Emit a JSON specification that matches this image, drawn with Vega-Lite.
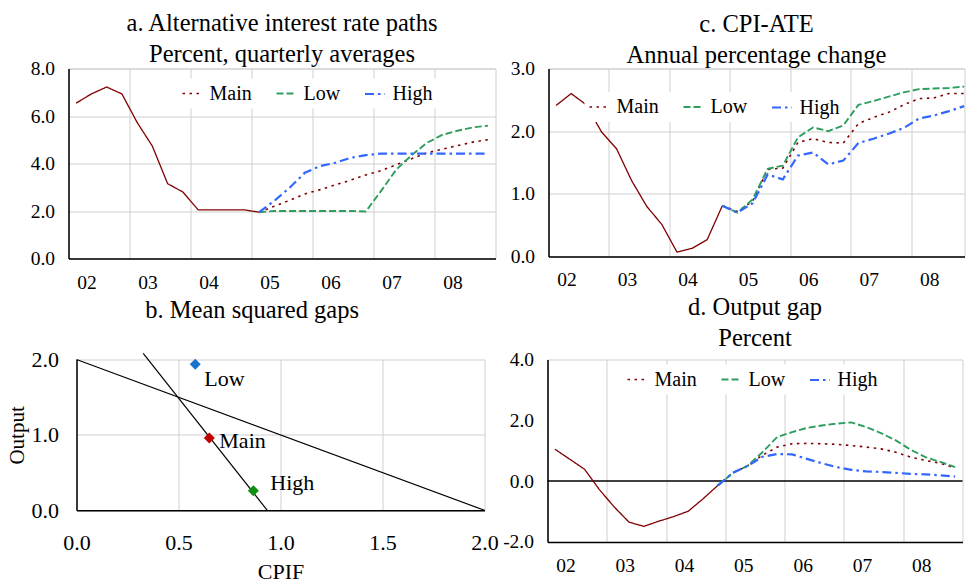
{
  "$schema": "https://vega.github.io/schema/vega-lite/v6.json",
  "padding": {"left": 5.5, "top": 10.5, "right": 0, "bottom": 0},
  "background": "white",
  "config": {
    "font": "Liberation Serif",
    "style": {"guide-label": {"font": "Liberation Serif", "fill": "#000"}, "guide-title": {"font": "Liberation Serif", "fill": "#000", "fontWeight": "normal"}, "group-title": {"font": "Liberation Serif"}},
    "view": {"stroke": "#cfcfcf", "strokeWidth": 1},
    "axis": {"labelFont": "Liberation Serif", "labelFontSize": 19.5, "labelColor": "#000", "titleFont": "Liberation Serif", "titleFontWeight": "normal", "titleColor": "#000", "gridColor": "#cfcfcf", "gridWidth": 1, "domainColor": "#000", "domainWidth": 1.5, "ticks": false, "labelPadding": 13, "labelFlush": false, "labelOverlap": false},
    "axisY": {"labelPadding": 14},
    "title": {"font": "Liberation Serif", "fontSize": 24.5, "fontWeight": "normal", "color": "#000", "lineHeight": 31, "anchor": "middle"},
    "legend": {"labelFont": "Liberation Serif", "labelFontSize": 20, "labelColor": "#000", "symbolType": "stroke", "symbolSize": 400, "symbolStrokeWidth": 2.2, "fillColor": "#fff", "padding": 4, "columnPadding": 20, "labelOffset": 6, "title": null, "direction": "horizontal", "orient": "none", "gridAlign": "none"}
  },
  "datasets": {
    "a": [
      {"t": 2002.125, "s": "Hist", "v": 6.54}, {"t": 2002.375, "s": "Hist", "v": 6.93}, {"t": 2002.625, "s": "Hist", "v": 7.22}, {"t": 2002.875, "s": "Hist", "v": 6.93},
      {"t": 2003.125, "s": "Hist", "v": 5.73}, {"t": 2003.375, "s": "Hist", "v": 4.73}, {"t": 2003.625, "s": "Hist", "v": 3.15}, {"t": 2003.875, "s": "Hist", "v": 2.8},
      {"t": 2004.125, "s": "Hist", "v": 2.05}, {"t": 2004.375, "s": "Hist", "v": 2.05}, {"t": 2004.625, "s": "Hist", "v": 2.05}, {"t": 2004.875, "s": "Hist", "v": 2.05},
      {"t": 2005.125, "s": "Hist", "v": 1.95},
      {"t": 2005.125, "s": "Main", "v": 1.95}, {"t": 2005.375, "s": "Main", "v": 2.2}, {"t": 2005.625, "s": "Main", "v": 2.45}, {"t": 2005.875, "s": "Main", "v": 2.72},
      {"t": 2006.125, "s": "Main", "v": 2.9}, {"t": 2006.375, "s": "Main", "v": 3.1}, {"t": 2006.625, "s": "Main", "v": 3.3}, {"t": 2006.875, "s": "Main", "v": 3.52},
      {"t": 2007.125, "s": "Main", "v": 3.7}, {"t": 2007.375, "s": "Main", "v": 3.95}, {"t": 2007.625, "s": "Main", "v": 4.2}, {"t": 2007.875, "s": "Main", "v": 4.45},
      {"t": 2008.125, "s": "Main", "v": 4.6}, {"t": 2008.375, "s": "Main", "v": 4.75}, {"t": 2008.625, "s": "Main", "v": 4.9}, {"t": 2008.875, "s": "Main", "v": 5.0},
      {"t": 2005.125, "s": "Low", "v": 1.95}, {"t": 2005.375, "s": "Low", "v": 2.0}, {"t": 2005.625, "s": "Low", "v": 2.0}, {"t": 2005.875, "s": "Low", "v": 2.0},
      {"t": 2006.125, "s": "Low", "v": 2.0}, {"t": 2006.375, "s": "Low", "v": 2.0}, {"t": 2006.625, "s": "Low", "v": 2.0}, {"t": 2006.875, "s": "Low", "v": 1.98},
      {"t": 2007.125, "s": "Low", "v": 2.85}, {"t": 2007.375, "s": "Low", "v": 3.75}, {"t": 2007.625, "s": "Low", "v": 4.35}, {"t": 2007.875, "s": "Low", "v": 4.87},
      {"t": 2008.125, "s": "Low", "v": 5.2}, {"t": 2008.375, "s": "Low", "v": 5.38}, {"t": 2008.625, "s": "Low", "v": 5.52}, {"t": 2008.875, "s": "Low", "v": 5.59},
      {"t": 2005.125, "s": "High", "v": 1.95}, {"t": 2005.375, "s": "High", "v": 2.43}, {"t": 2005.625, "s": "High", "v": 2.98}, {"t": 2005.875, "s": "High", "v": 3.61},
      {"t": 2006.125, "s": "High", "v": 3.89}, {"t": 2006.375, "s": "High", "v": 4.03}, {"t": 2006.625, "s": "High", "v": 4.24}, {"t": 2006.875, "s": "High", "v": 4.35},
      {"t": 2007.125, "s": "High", "v": 4.42}, {"t": 2007.375, "s": "High", "v": 4.42}, {"t": 2007.625, "s": "High", "v": 4.42}, {"t": 2007.875, "s": "High", "v": 4.42},
      {"t": 2008.125, "s": "High", "v": 4.42}, {"t": 2008.375, "s": "High", "v": 4.42}, {"t": 2008.625, "s": "High", "v": 4.42}, {"t": 2008.875, "s": "High", "v": 4.42}
    ],
    "c": [
      {"t": 2002.125, "s": "Hist", "v": 2.41}, {"t": 2002.375, "s": "Hist", "v": 2.6}, {"t": 2002.625, "s": "Hist", "v": 2.42}, {"t": 2002.875, "s": "Hist", "v": 1.99},
      {"t": 2003.125, "s": "Hist", "v": 1.72}, {"t": 2003.375, "s": "Hist", "v": 1.21}, {"t": 2003.625, "s": "Hist", "v": 0.8}, {"t": 2003.875, "s": "Hist", "v": 0.51},
      {"t": 2004.125, "s": "Hist", "v": 0.07}, {"t": 2004.375, "s": "Hist", "v": 0.13}, {"t": 2004.625, "s": "Hist", "v": 0.27}, {"t": 2004.875, "s": "Hist", "v": 0.81},
      {"t": 2004.875, "s": "Main", "v": 0.81}, {"t": 2005.125, "s": "Main", "v": 0.72}, {"t": 2005.375, "s": "Main", "v": 0.88}, {"t": 2005.625, "s": "Main", "v": 1.39}, {"t": 2005.875, "s": "Main", "v": 1.41},
      {"t": 2006.125, "s": "Main", "v": 1.82}, {"t": 2006.375, "s": "Main", "v": 1.88}, {"t": 2006.625, "s": "Main", "v": 1.82}, {"t": 2006.875, "s": "Main", "v": 1.81},
      {"t": 2007.125, "s": "Main", "v": 2.12}, {"t": 2007.375, "s": "Main", "v": 2.22}, {"t": 2007.625, "s": "Main", "v": 2.3}, {"t": 2007.875, "s": "Main", "v": 2.42},
      {"t": 2008.125, "s": "Main", "v": 2.52}, {"t": 2008.375, "s": "Main", "v": 2.53}, {"t": 2008.625, "s": "Main", "v": 2.6}, {"t": 2008.875, "s": "Main", "v": 2.6},
      {"t": 2004.875, "s": "Low", "v": 0.81}, {"t": 2005.125, "s": "Low", "v": 0.7}, {"t": 2005.375, "s": "Low", "v": 0.91}, {"t": 2005.625, "s": "Low", "v": 1.4}, {"t": 2005.875, "s": "Low", "v": 1.45},
      {"t": 2006.125, "s": "Low", "v": 1.9}, {"t": 2006.375, "s": "Low", "v": 2.06}, {"t": 2006.625, "s": "Low", "v": 2.0}, {"t": 2006.875, "s": "Low", "v": 2.09},
      {"t": 2007.125, "s": "Low", "v": 2.42}, {"t": 2007.375, "s": "Low", "v": 2.48}, {"t": 2007.625, "s": "Low", "v": 2.55}, {"t": 2007.875, "s": "Low", "v": 2.62},
      {"t": 2008.125, "s": "Low", "v": 2.67}, {"t": 2008.375, "s": "Low", "v": 2.68}, {"t": 2008.625, "s": "Low", "v": 2.69}, {"t": 2008.875, "s": "Low", "v": 2.71},
      {"t": 2004.875, "s": "High", "v": 0.81}, {"t": 2005.125, "s": "High", "v": 0.7}, {"t": 2005.375, "s": "High", "v": 0.85}, {"t": 2005.625, "s": "High", "v": 1.31}, {"t": 2005.875, "s": "High", "v": 1.23},
      {"t": 2006.125, "s": "High", "v": 1.61}, {"t": 2006.375, "s": "High", "v": 1.66}, {"t": 2006.625, "s": "High", "v": 1.47}, {"t": 2006.875, "s": "High", "v": 1.53},
      {"t": 2007.125, "s": "High", "v": 1.81}, {"t": 2007.375, "s": "High", "v": 1.88}, {"t": 2007.625, "s": "High", "v": 1.96}, {"t": 2007.875, "s": "High", "v": 2.05},
      {"t": 2008.125, "s": "High", "v": 2.2}, {"t": 2008.375, "s": "High", "v": 2.25}, {"t": 2008.625, "s": "High", "v": 2.32}, {"t": 2008.875, "s": "High", "v": 2.4}
    ],
    "d": [
      {"t": 2002.125, "s": "Hist", "v": 1.05}, {"t": 2002.375, "s": "Hist", "v": 0.72}, {"t": 2002.625, "s": "Hist", "v": 0.39}, {"t": 2002.875, "s": "Hist", "v": -0.28},
      {"t": 2003.125, "s": "Hist", "v": -0.85}, {"t": 2003.375, "s": "Hist", "v": -1.35}, {"t": 2003.625, "s": "Hist", "v": -1.49}, {"t": 2003.875, "s": "Hist", "v": -1.32},
      {"t": 2004.125, "s": "Hist", "v": -1.17}, {"t": 2004.375, "s": "Hist", "v": -0.99}, {"t": 2004.625, "s": "Hist", "v": -0.58}, {"t": 2004.875, "s": "Hist", "v": -0.14},
      {"t": 2004.875, "s": "Main", "v": -0.14}, {"t": 2005.125, "s": "Main", "v": 0.27}, {"t": 2005.375, "s": "Main", "v": 0.5}, {"t": 2005.625, "s": "Main", "v": 0.85}, {"t": 2005.875, "s": "Main", "v": 1.12},
      {"t": 2006.125, "s": "Main", "v": 1.23}, {"t": 2006.375, "s": "Main", "v": 1.24}, {"t": 2006.625, "s": "Main", "v": 1.23}, {"t": 2006.875, "s": "Main", "v": 1.21},
      {"t": 2007.125, "s": "Main", "v": 1.17}, {"t": 2007.375, "s": "Main", "v": 1.12}, {"t": 2007.625, "s": "Main", "v": 1.06}, {"t": 2007.875, "s": "Main", "v": 0.95},
      {"t": 2008.125, "s": "Main", "v": 0.79}, {"t": 2008.375, "s": "Main", "v": 0.68}, {"t": 2008.625, "s": "Main", "v": 0.59}, {"t": 2008.875, "s": "Main", "v": 0.43},
      {"t": 2004.875, "s": "Low", "v": -0.14}, {"t": 2005.125, "s": "Low", "v": 0.27}, {"t": 2005.375, "s": "Low", "v": 0.5}, {"t": 2005.625, "s": "Low", "v": 0.95}, {"t": 2005.875, "s": "Low", "v": 1.45},
      {"t": 2006.125, "s": "Low", "v": 1.61}, {"t": 2006.375, "s": "Low", "v": 1.75}, {"t": 2006.625, "s": "Low", "v": 1.83}, {"t": 2006.875, "s": "Low", "v": 1.89},
      {"t": 2007.125, "s": "Low", "v": 1.93}, {"t": 2007.375, "s": "Low", "v": 1.78}, {"t": 2007.625, "s": "Low", "v": 1.58}, {"t": 2007.875, "s": "Low", "v": 1.34},
      {"t": 2008.125, "s": "Low", "v": 1.03}, {"t": 2008.375, "s": "Low", "v": 0.79}, {"t": 2008.625, "s": "Low", "v": 0.63}, {"t": 2008.875, "s": "Low", "v": 0.46},
      {"t": 2004.875, "s": "High", "v": -0.14}, {"t": 2005.125, "s": "High", "v": 0.27}, {"t": 2005.375, "s": "High", "v": 0.5}, {"t": 2005.625, "s": "High", "v": 0.8}, {"t": 2005.875, "s": "High", "v": 0.89},
      {"t": 2006.125, "s": "High", "v": 0.88}, {"t": 2006.375, "s": "High", "v": 0.73}, {"t": 2006.625, "s": "High", "v": 0.59}, {"t": 2006.875, "s": "High", "v": 0.46},
      {"t": 2007.125, "s": "High", "v": 0.37}, {"t": 2007.375, "s": "High", "v": 0.32}, {"t": 2007.625, "s": "High", "v": 0.3}, {"t": 2007.875, "s": "High", "v": 0.27},
      {"t": 2008.125, "s": "High", "v": 0.24}, {"t": 2008.375, "s": "High", "v": 0.22}, {"t": 2008.625, "s": "High", "v": 0.19}, {"t": 2008.875, "s": "High", "v": 0.15}
    ],
    "blines": [
      {"id": "L1", "x": 0, "y": 2}, {"id": "L1", "x": 2, "y": 0},
      {"id": "L2", "x": 0.327, "y": 2.08}, {"id": "L2", "x": 0.935, "y": 0}
    ],
    "bpoints": [
      {"name": "Low", "x": 0.582, "y": 1.937},
      {"name": "Main", "x": 0.651, "y": 0.96},
      {"name": "High", "x": 0.867, "y": 0.26}
    ]
  },
  "columns": 2,
  "align": "none",
  "spacing": {"row": 1, "column": 0},
  "concat": [
    {
      "width": 427, "height": 190,
      "title": {"text": ["a. Alternative interest rate paths", "Percent, quarterly averages"], "offset": -9},
      "data": {"name": "a"},
      "mark": {"type": "line", "clip": false},
      "encoding": {
        "x": {"field": "t", "type": "quantitative", "scale": {"domain": [2002, 2009], "nice": false, "zero": false}, "axis": {"values": [2002, 2003, 2004, 2005, 2006, 2007, 2008], "labelExpr": "slice(toString(datum.value), 2)", "labelOffset": 18, "title": null, "labelPadding": 14.5, "labelFont": "Liberation Serif"}},
        "y": {"field": "v", "type": "quantitative", "scale": {"domain": [0, 8], "nice": false}, "axis": {"values": [0, 2, 4, 6, 8], "format": ".1f", "title": null, "minExtent": 62.5, "labelFont": "Liberation Serif"}},
        "color": {"field": "s", "type": "nominal", "scale": {"domain": ["Hist", "Main", "Low", "High"], "range": ["#800000", "#800000", "#2E9E5E", "#3366FF"]}, "legend": {"values": ["Main", "Low", "High"], "legendX": 109, "legendY": 10, "labelFont": "Liberation Serif", "encode": {"symbols": {"update": {"strokeDash": {"signal": "datum.value === 'Main' ? [2.5, 4.5] : datum.value === 'Low' ? [7, 3] : [9, 4, 2.5, 4]"}, "strokeWidth": {"value": 2.2}}}}}},
        "strokeDash": {"field": "s", "type": "nominal", "scale": {"domain": ["Hist", "Main", "Low", "High"], "range": [[1, 0], [2.5, 4.5], [7, 3], [9, 4, 2.5, 4]]}, "legend": null},
        "strokeWidth": {"field": "s", "type": "nominal", "scale": {"domain": ["Hist", "Main", "Low", "High"], "range": [1.3, 2.2, 1.8, 2.2]}, "legend": null}
      }
    },
    {
      "width": 416, "height": 188,
      "title": {"text": ["c. CPI-ATE", "Annual percentage change"], "offset": -9.5},
      "data": {"name": "c"},
      "mark": {"type": "line", "clip": false},
      "encoding": {
        "x": {"field": "t", "type": "quantitative", "scale": {"domain": [2002, 2008.88], "nice": false, "zero": false}, "axis": {"values": [2002, 2003, 2004, 2005, 2006, 2007, 2008], "labelExpr": "slice(toString(datum.value), 2)", "labelOffset": 18, "title": null, "labelPadding": 14, "labelFont": "Liberation Serif"}},
        "y": {"field": "v", "type": "quantitative", "scale": {"domain": [0, 3], "nice": false}, "axis": {"values": [0, 1, 2, 3], "format": ".1f", "title": null, "minExtent": 49.5, "labelFont": "Liberation Serif"}},
        "color": {"field": "s", "type": "nominal", "scale": {"domain": ["Hist", "Main", "Low", "High"], "range": ["#800000", "#800000", "#2E9E5E", "#3366FF"]}, "legend": {"values": ["Main", "Low", "High"], "legendX": 36, "legendY": 23.5, "labelFont": "Liberation Serif", "encode": {"symbols": {"update": {"strokeDash": {"signal": "datum.value === 'Main' ? [2.5, 4.5] : datum.value === 'Low' ? [7, 3] : [9, 4, 2.5, 4]"}, "strokeWidth": {"value": 2.2}}}}}},
        "strokeDash": {"field": "s", "type": "nominal", "scale": {"domain": ["Hist", "Main", "Low", "High"], "range": [[1, 0], [2.5, 4.5], [7, 3], [9, 4, 2.5, 4]]}, "legend": null},
        "strokeWidth": {"field": "s", "type": "nominal", "scale": {"domain": ["Hist", "Main", "Low", "High"], "range": [1.3, 2.2, 1.6, 2.0]}, "legend": null}
      }
    },
    {
      "width": 416, "height": 150.8,
      "view": {"stroke": null},
      "title": {"text": ["", "b. Mean squared gaps"], "lineHeight": 3.4, "offset": 25.3, "frame": "bounds"},
      "layer": [
        {
          "data": {"name": "blines"},
          "mark": {"type": "line", "color": "#000", "strokeWidth": 1.2, "clip": false},
          "encoding": {
            "x": {"field": "x", "type": "quantitative", "scale": {"domain": [0, 2], "nice": false, "range": [8, 416]}, "axis": {"values": [0, 0.5, 1, 1.5, 2], "format": ".1f", "title": "CPIF", "labelFontSize": 22, "titleFontSize": 22, "labelPadding": 21.7, "titlePadding": 8, "labelFont": "Liberation Serif", "titleFont": "Liberation Serif"}},
            "y": {"field": "y", "type": "quantitative", "scale": {"domain": [0, 2], "nice": false}, "axis": {"values": [0, 0.5, 1, 1.5, 2], "format": ".1f", "title": "Output", "offset": -8, "labelFontSize": 22, "titleFontSize": 21, "labelPadding": 18, "titlePadding": 4, "labelFont": "Liberation Serif", "titleFont": "Liberation Serif"}},
            "detail": {"field": "id", "type": "nominal"}
          }
        },
        {
          "data": {"name": "bpoints"},
          "mark": {"type": "point", "shape": "diamond", "filled": true, "size": 121, "opacity": 1},
          "encoding": {
            "x": {"field": "x", "type": "quantitative"},
            "y": {"field": "y", "type": "quantitative"},
            "color": {"field": "name", "type": "nominal", "scale": {"domain": ["Low", "Main", "High"], "range": ["#1874CD", "#C00000", "#109010"]}, "legend": null}
          }
        },
        {
          "data": {"name": "bpoints"},
          "transform": [{"filter": "datum.name === 'Low'"}],
          "mark": {"type": "text", "align": "left", "baseline": "middle", "dx": 9, "dy": 15, "fontSize": 22, "font": "Liberation Serif", "color": "#000"},
          "encoding": {"x": {"field": "x", "type": "quantitative"}, "y": {"field": "y", "type": "quantitative"}, "text": {"field": "name"}}
        },
        {
          "data": {"name": "bpoints"},
          "transform": [{"filter": "datum.name === 'Main'"}],
          "mark": {"type": "text", "align": "left", "baseline": "middle", "dx": 10, "dy": 3, "fontSize": 22, "font": "Liberation Serif", "color": "#000"},
          "encoding": {"x": {"field": "x", "type": "quantitative"}, "y": {"field": "y", "type": "quantitative"}, "text": {"field": "name"}}
        },
        {
          "data": {"name": "bpoints"},
          "transform": [{"filter": "datum.name === 'High'"}],
          "mark": {"type": "text", "align": "left", "baseline": "middle", "dx": 17, "dy": -8, "fontSize": 22, "font": "Liberation Serif", "color": "#000"},
          "encoding": {"x": {"field": "x", "type": "quantitative"}, "y": {"field": "y", "type": "quantitative"}, "text": {"field": "name"}}
        }
      ]
    },
    {
      "width": 415, "height": 182.4,
      "title": {"text": ["d. Output gap", "Percent"], "offset": -1.7},
      "layer": [
        {
          "data": {"values": [{}]},
          "mark": {"type": "rule", "color": "#000", "strokeWidth": 1.5},
          "encoding": {"y": {"datum": 0, "type": "quantitative"}}
        },
        {
          "data": {"name": "d"},
          "mark": {"type": "line", "clip": false},
          "encoding": {
            "x": {"field": "t", "type": "quantitative", "scale": {"domain": [2002, 2009], "nice": false, "zero": false}, "axis": {"values": [2002, 2003, 2004, 2005, 2006, 2007, 2008], "labelExpr": "slice(toString(datum.value), 2)", "labelOffset": 18, "title": null, "labelPadding": 15, "labelFont": "Liberation Serif"}},
            "y": {"field": "v", "type": "quantitative", "scale": {"domain": [-2, 4], "nice": false}, "axis": {"values": [-2, 0, 2, 4], "labelExpr": "datum.value < 0 ? '-' + format(-datum.value, '.1f') : format(datum.value, '.1f')", "title": null, "minExtent": 48.3, "labelFont": "Liberation Serif"}},
            "color": {"field": "s", "type": "nominal", "scale": {"domain": ["Hist", "Main", "Low", "High"], "range": ["#800000", "#800000", "#2E9E5E", "#3366FF"]}, "legend": {"values": ["Main", "Low", "High"], "legendX": 75, "legendY": 5, "labelFont": "Liberation Serif", "encode": {"symbols": {"update": {"strokeDash": {"signal": "datum.value === 'Main' ? [2.5, 4.5] : datum.value === 'Low' ? [7, 3] : [9, 4, 2.5, 4]"}, "strokeWidth": {"value": 2.2}}}}}},
            "strokeDash": {"field": "s", "type": "nominal", "scale": {"domain": ["Hist", "Main", "Low", "High"], "range": [[1, 0], [2.5, 4.5], [7, 3], [9, 4, 2.5, 4]]}, "legend": null},
            "strokeWidth": {"field": "s", "type": "nominal", "scale": {"domain": ["Hist", "Main", "Low", "High"], "range": [1.3, 2.2, 1.8, 2.2]}, "legend": null}
          }
        }
      ]
    }
  ],
  "resolve": {"scale": {"color": "independent", "strokeDash": "independent", "strokeWidth": "independent", "x": "independent", "y": "independent"}, "legend": {"color": "independent"}}
}
